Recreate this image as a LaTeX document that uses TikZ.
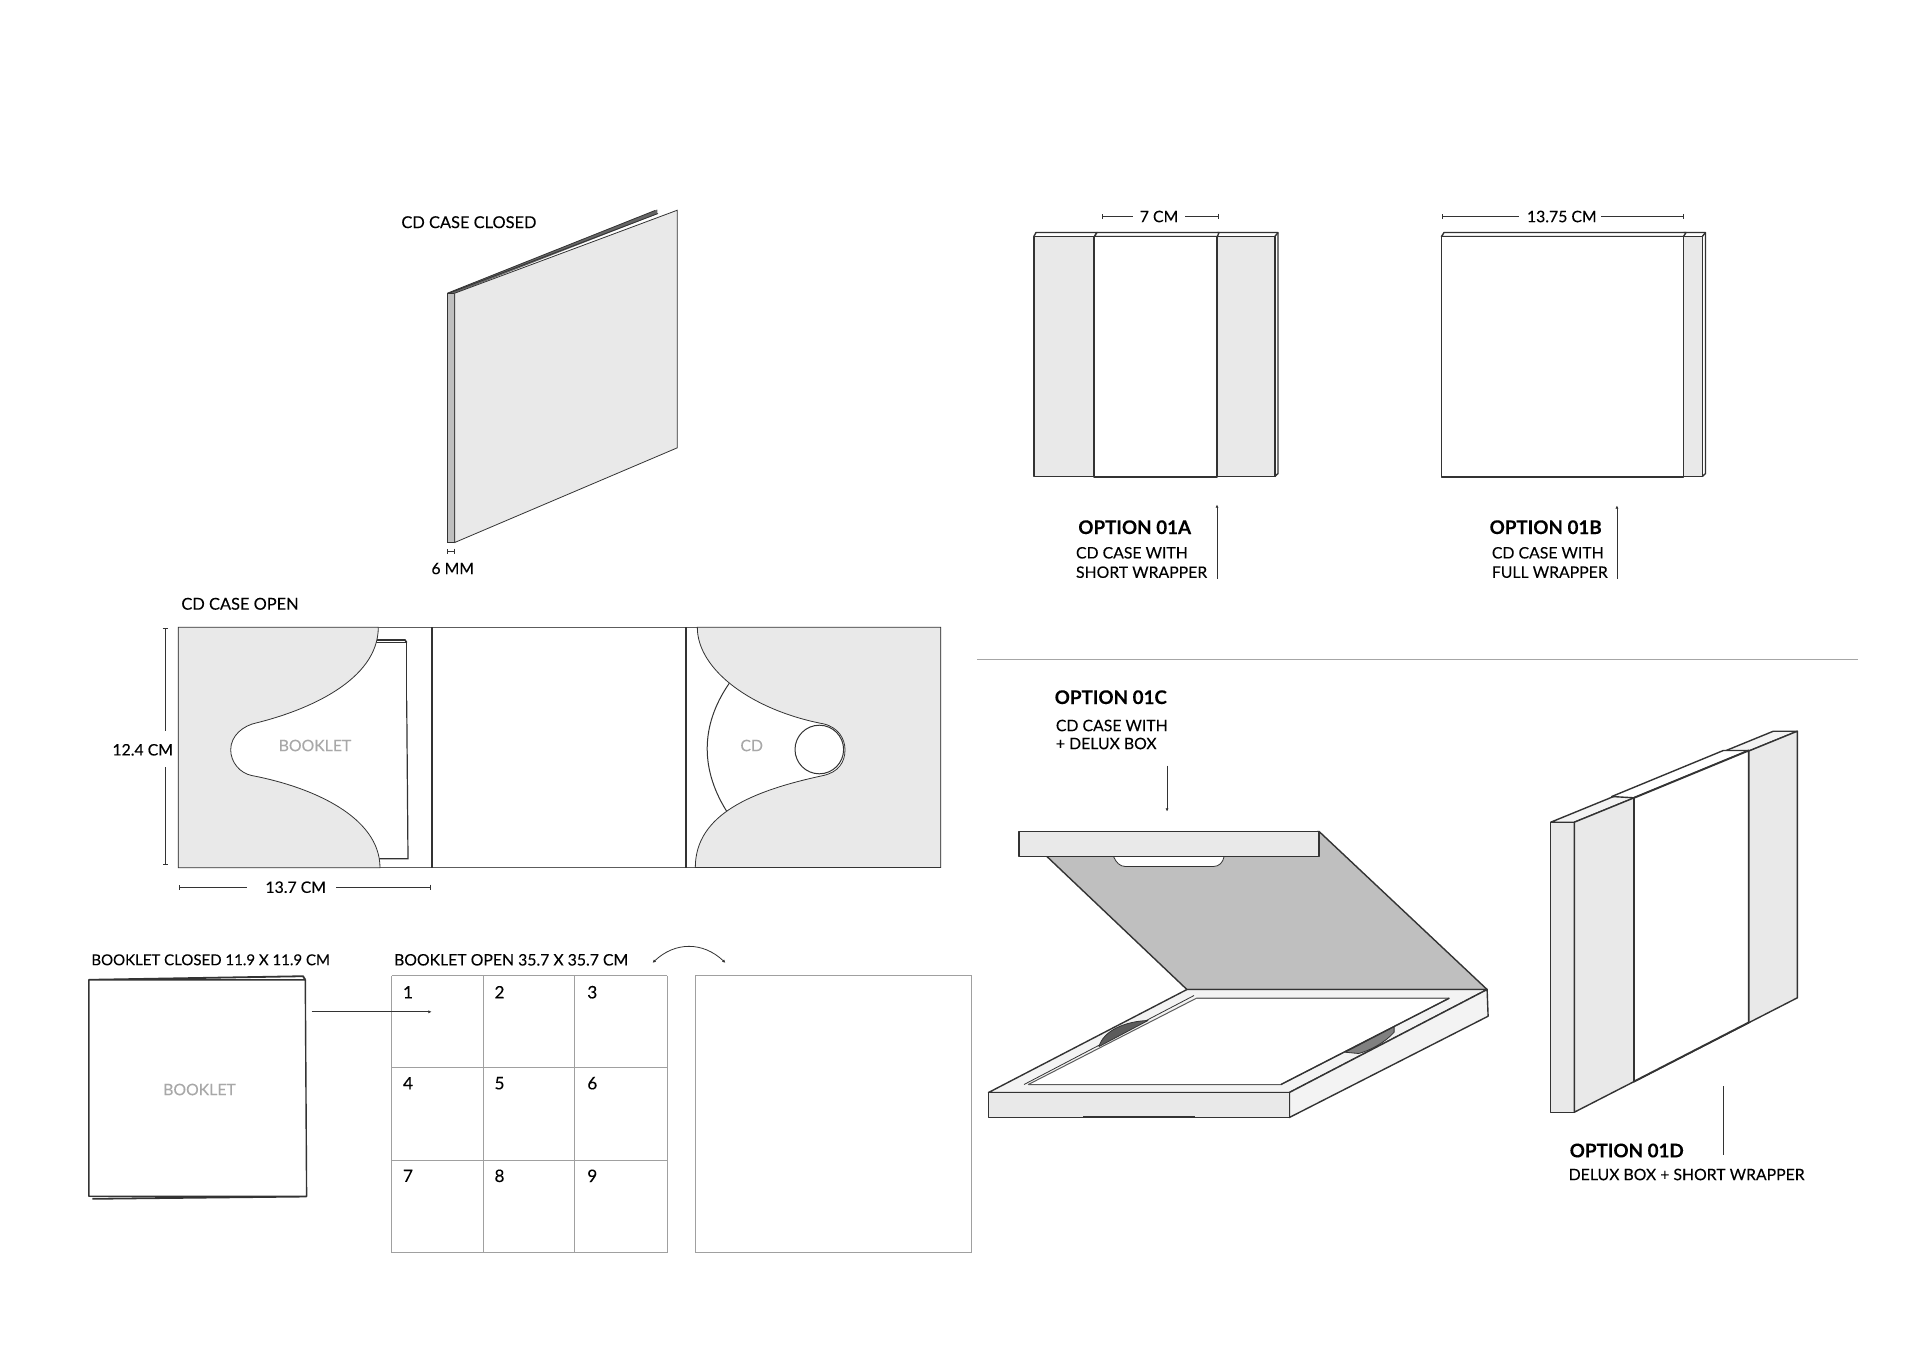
\documentclass[tikz,border=0pt]{standalone}
\usepackage{fontspec}
\setmainfont{Lato}[FakeBold=0.12]
\usetikzlibrary{arrows.meta}
\definecolor{inkline}{HTML}{333333}
\definecolor{flapgrey}{HTML}{E9E9E9}
\definecolor{liftgrey}{HTML}{F3F3F3}
\definecolor{lidgrey}{HTML}{BFBFBF}
\definecolor{gridgrey}{HTML}{A0A0A0}
\definecolor{pale}{HTML}{A8A8A8}
\tikzset{
    lbl/.style={inner sep=0pt, font=\fontsize{7.9}{9}\selectfont, text=black},
    lblleft/.style={lbl, anchor=west},
    optname/.style={inner sep=0pt, anchor=west, font=\fontsize{9.4}{10}\selectfont\bfseries, text=black},
    palelbl/.style={lbl, text=pale},
    outline/.style={draw=inkline, line width=.7pt, line join=round},
    wrapline/.style={draw=inkline, line width=.95pt, line join=round},
    fineline/.style={draw=inkline, line width=.4pt},
    dimline/.style={draw=inkline, line width=.4pt, {Bar[width=2.6pt]}-},
    leader/.style={draw=inkline, line width=.4pt, -{Latex[length=1.6pt,width=1.6pt]}}
}
\begin{document}
\begin{tikzpicture}[x=.5pt, y=-.5pt]
    \useasboundingbox (0, -.5) rectangle (1920, 1349.5);

    % CD case closed
    \node[lblleft, font=\fontsize{8.2}{9}\selectfont] (closedtitle) at (401, 221.7) {CD CASE CLOSED};
    \fill[gray!80!black] (447.3, 292.7) -- (657.3, 209) -- (657.3, 213.5) -- (454.7, 292.7) -- cycle;
    \draw[fineline] (447.3, 292.7) -- (655, 210);
    \draw[fineline] (449, 292.7) -- (658, 213);
    \draw[fineline, fill=lidgrey] (447.3, 292.7) rectangle (454.7, 542);
    \draw[fineline, fill=flapgrey] (454.7, 292.7) -- (677.3, 209.7) -- (677.3, 447.3) -- (454.7, 542) -- cycle;
    \node[lbl] (dimspine) at (452.7, 568) {6 MM};
    \coordinate (spinel) at (447.3, 550.7);
    \coordinate (spiner) at (454.7, 550.7);
    \draw[fineline, {Bar[width=2.6pt]}-{Bar[width=2.6pt]}] (spinel) -- (spiner);

    % CD case open
    \node[lblleft, font=\fontsize{8.2}{9}\selectfont] (opentitle) at (181, 603.3) {CD CASE OPEN};
    \draw[outline, draw=inkline!80] (178.3, 626.7) rectangle (940.7, 867);
    % Booklet in the left flap
    \draw[fineline, line width=.8pt] (370, 639.5) -- (405, 639.5) -- (406.7, 642);
    \draw[fineline] (370, 642) -- (406.7, 642) -- (406.7, 700);
    \draw[fineline, line width=.6pt] (406.7, 700) -- (408, 858.3) -- (370, 858.3);
    \draw[fineline, fill=flapgrey] (178.3, 626.7) -- (378.3, 626.7)
        .. controls (378.3, 680) and (306.7, 710) .. (256.7, 722.3)
        .. controls (243.3, 725) and (230.7, 735) .. (230.7, 749.3)
        .. controls (230.7, 761.7) and (240, 772.7) .. (251.7, 775)
        .. controls (313.3, 786.7) and (380, 816.7) .. (380, 867.3)
        -- (178.3, 867.3) -- cycle;
    % Disc in the right flap
    \draw[outline, line width=.5pt] (729.3, 682.7) .. controls (700, 725) and (700, 770) .. (728.3, 813.3);
    \draw[fineline, fill=flapgrey] (940.7, 626.7) -- (697.3, 626.7)
        .. controls (697.3, 670) and (753.3, 710) .. (823.3, 723.3)
        .. controls (838.3, 726.7) and (845, 738.3) .. (845, 749.3)
        .. controls (845, 761.7) and (838.3, 771.7) .. (823.3, 775)
        .. controls (753.3, 790) and (695.3, 813.3) .. (695.3, 867)
        -- (940.7, 867) -- cycle;
    \draw[fineline, line width=.5pt, fill=white] (819.3, 749) circle[radius=12.15pt];
    \draw[outline, line width=.9pt] (432, 626.7) -- (432, 867);
    \draw[outline, line width=.9pt] (686, 626.7) -- (686, 867);
    \node[palelbl] (bookletopen) at (315, 745) {BOOKLET};
    \node[palelbl] (cdlabel) at (751.7, 745) {CD};
    \node[lbl] (dimheight) at (142.7, 749.3) {12.4 CM};
    \coordinate (heighttop) at (165.3, 627.3);
    \coordinate (heightbot) at (165.3, 864.7);
    \draw[dimline] (heighttop) -- (165.3, 730);
    \draw[dimline] (heightbot) -- (165.3, 766.7);
    \node[lbl] (dimwidth) at (295.7, 886.7) {13.7 CM};
    \coordinate (widthl) at (178.7, 886.7);
    \coordinate (widthr) at (430.3, 886.7);
    \draw[dimline] (widthl) -- ([xshift=-9pt]dimwidth.west);
    \draw[dimline] (widthr) -- ([xshift=5pt]dimwidth.east);

    % Booklet closed
    \node[lblleft, font=\fontsize{7.5}{9}\selectfont] (bookclosedtitle) at (91, 959.3) {BOOKLET CLOSED 11.9 X 11.9 CM};
    \draw[outline, line width=.9pt] (88.8, 979.3) -- (303, 975.7) -- (305.3, 979.3);
    \draw[outline, line width=.9pt] (92.3, 1198.3) -- (306.6, 1196);
    \draw[outline, fill=white] (88.8, 979.3) -- (305.3, 979.3) -- (306.6, 1195.7) -- (88.8, 1195.7) -- cycle;
    \node[palelbl] (bookletclosed) at (199.5, 1089) {BOOKLET};

    % Booklet open
    \node[lblleft] (bookopentitle) at (393.7, 959.3) {BOOKLET OPEN 35.7 X 35.7 CM};
    \foreach \i in {391.9, 483, 574.9, 667.3} {
        \draw[gridgrey, line width=.5pt] (\i, 975) -- (\i, 1252);
    }
    \foreach \j in {975, 1067.3, 1159.7, 1252} {
        \draw[gridgrey, line width=.5pt] (391.9, \j) -- (667.3, \j);
    }
    \foreach \n/\cx/\cy in {1/408/991.7, 2/499.5/991.7, 3/592.3/991.7,
                            4/408/1082.7, 5/499.5/1082.7, 6/592.3/1082.7,
                            7/408/1175.3, 8/499.5/1175.3, 9/592.3/1175.3} {
        \node[lbl, font=\fontsize{8.6}{9}\selectfont] (page\n) at (\cx, \cy) {\n};
    }
    \draw[gridgrey, line width=.5pt] (695, 975) rectangle (971, 1252);
    \coordinate (foldl) at (652.6, 962.3);
    \coordinate (foldr) at (725.4, 962.3);
    \draw[leader, {Latex[length=1.6pt,width=1.6pt]}-{Latex[length=1.6pt,width=1.6pt]}] (foldl) .. controls (675, 941) and (703, 941) .. (foldr);
    \coordinate (pagefrom) at (311.5, 1011.3);
    \coordinate (pageto) at (431.6, 1011.3);
    \draw[leader] (pagefrom) -- (pageto);

    % Option 01A
    \fill[flapgrey] (1033.8, 236) rectangle (1274.8, 476);
    \draw[outline] (1033.8, 236) -- (1036, 232) -- (1097, 232) -- (1094.4, 236);
    \draw[outline] (1217.4, 232) -- (1278, 232) -- (1278, 473) -- (1274.8, 476);
    \draw[outline] (1274.8, 236) -- (1278, 232);
    \draw[outline] (1033.8, 236) rectangle (1274.8, 476);
    \draw[outline, fill=white] (1094.4, 236) -- (1097, 232) -- (1219, 232) -- (1217.4, 236) -- cycle;
    \draw[wrapline, fill=white] (1094.4, 236) rectangle (1217.4, 476.7);
    \node[lbl] (dimshort) at (1159, 216) {7 CM};
    \coordinate (shortl) at (1101.7, 216);
    \coordinate (shortr) at (1218.8, 216);
    \draw[dimline] (shortl) -- ([xshift=-3pt]dimshort.west);
    \draw[dimline] (shortr) -- ([xshift=3pt]dimshort.east);
    \node[optname] (opta) at (1077.9, 526.7) {OPTION 01A};
    \node[lblleft] (optaline) at (1075.6, 552.3) {CD CASE WITH};
    \node[lblleft] (optalinetwo) at (1075.6, 571.7) {SHORT WRAPPER};
    \coordinate (optafoot) at (1217, 578);
    \coordinate (optahead) at (1217, 504);
    \draw[leader] (optafoot) -- (optahead);

    % Option 01B
    \fill[flapgrey] (1683.5, 236) rectangle (1702.3, 476);
    \draw[outline] (1683.5, 232) -- (1705.5, 232) -- (1705.5, 473) -- (1702.3, 476);
    \draw[outline] (1702.3, 236) -- (1705.5, 232);
    \draw[outline] (1683.5, 236) -- (1702.3, 236) -- (1702.3, 476) -- (1683.5, 476);
    \draw[outline, fill=white] (1441.5, 236) -- (1444, 232) -- (1686, 232) -- (1683.5, 236) -- cycle;
    \draw[wrapline, fill=white] (1441.5, 236) rectangle (1683.5, 476.7);
    \node[lbl] (dimfull) at (1561.8, 216) {13.75 CM};
    \coordinate (fulll) at (1442.4, 216);
    \coordinate (fullr) at (1683.5, 216);
    \draw[dimline] (fulll) -- ([xshift=-4pt]dimfull.west);
    \draw[dimline] (fullr) -- ([xshift=2pt]dimfull.east);
    \node[optname] (optb) at (1489.2, 526.7) {OPTION 01B};
    \node[lblleft] (optbline) at (1491.5, 552.3) {CD CASE WITH};
    \node[lblleft] (optblinetwo) at (1491.5, 571.7) {FULL WRAPPER};
    \coordinate (optbfoot) at (1616.9, 578);
    \coordinate (optbhead) at (1616.9, 505);
    \draw[leader] (optbfoot) -- (optbhead);

    % Divider
    \draw[gray!70, line width=.5pt] (977, 659) -- (1857.6, 659);

    % Option 01C
    \node[optname] (optc) at (1054.3, 696.7) {OPTION 01C};
    \node[lblleft] (optcline) at (1055.5, 725) {CD CASE WITH};
    \node[lblleft] (optclinetwo) at (1055.5, 743) {+ DELUX BOX};
    \coordinate (optcfoot) at (1167, 765);
    \coordinate (optchead) at (1167, 811);
    \draw[leader] (optcfoot) -- (optchead);
    % Lid
    \draw[outline, fill=lidgrey] (1046.9, 856) -- (1319.1, 831) -- (1487.1, 989) -- (1186.9, 989) -- cycle;
    \draw[outline, fill=white, line width=.4pt] (1113.5, 856)
        .. controls (1116, 862) and (1120, 866) .. (1125.4, 866)
        -- (1213.3, 866) .. controls (1219, 866) and (1223, 862) .. (1224.1, 856) -- cycle;
    \draw[outline, fill=flapgrey] (1018.9, 831) rectangle (1319.1, 856);
    % Base
    \draw[outline, fill=liftgrey] (1186.9, 989) -- (1487.1, 989) -- (1289.3, 1092) -- (988.5, 1092) -- cycle;
    \draw[outline, line width=.5pt, draw=inkline!80, fill=white] (1196.4, 997.7) -- (1449.2, 997.7) -- (1280.9, 1084) -- (1028.3, 1084) -- cycle;
    \draw[outline, line width=.9pt, draw=inkline!70] (1196.4, 998) -- (1449.2, 998);
    \draw[fineline] (1194, 995) -- (1024, 1084);
    \draw[outline, line width=.4pt, fill=inkline!80] (1099, 1046) .. controls (1103.4, 1030) and (1125.4, 1020.7) .. (1148, 1020) -- cycle;
    \draw[outline, line width=.4pt, fill=gray] (1345.1, 1051.7) -- (1394.1, 1026) -- (1394.1, 1031.7)
        .. controls (1385, 1042) and (1370, 1050) .. (1358.6, 1053) -- cycle;
    \draw[outline] (1280.9, 1084) -- (1449.2, 997.7);
    \draw[outline, fill=liftgrey] (1289.3, 1092) -- (1487.1, 989) -- (1488.1, 1015.7) -- (1289.3, 1117) -- cycle;
    \draw[outline, fill=flapgrey] (988.5, 1092) rectangle (1289.3, 1117);
    \draw[outline, line width=.9pt] (1083.1, 1116.3) -- (1194.7, 1116.3);

    % Option 01D
    \draw[outline, fill=liftgrey] (1550.7, 821.7) -- (1773.3, 730.7) -- (1797.3, 730.7) -- (1574.3, 821.7) -- cycle;
    \draw[outline, fill=flapgrey] (1550.7, 821.7) rectangle (1574.3, 1111.7);
    \draw[outline, fill=flapgrey] (1574.3, 821.7) -- (1797.3, 730.7) -- (1797.3, 997.3) -- (1574.3, 1111.7) -- cycle;
    \draw[outline, fill=white] (1611.7, 796) -- (1723.3, 750) -- (1748.7, 750) -- (1634, 797.3) -- cycle;
    \draw[wrapline, fill=white] (1634, 797.3) -- (1748.7, 750) -- (1748.7, 1022) -- (1634, 1081) -- cycle;
    \coordinate (optdfoot) at (1723.3, 1154);
    \coordinate (optdhead) at (1723.3, 1085);
    \draw[fineline] (optdfoot) -- (optdhead);
    \node[optname] (optd) at (1569.3, 1150) {OPTION 01D};
    \node[lblleft] (optdline) at (1568.3, 1174) {DELUX BOX + SHORT WRAPPER};
\end{tikzpicture}
\end{document}
